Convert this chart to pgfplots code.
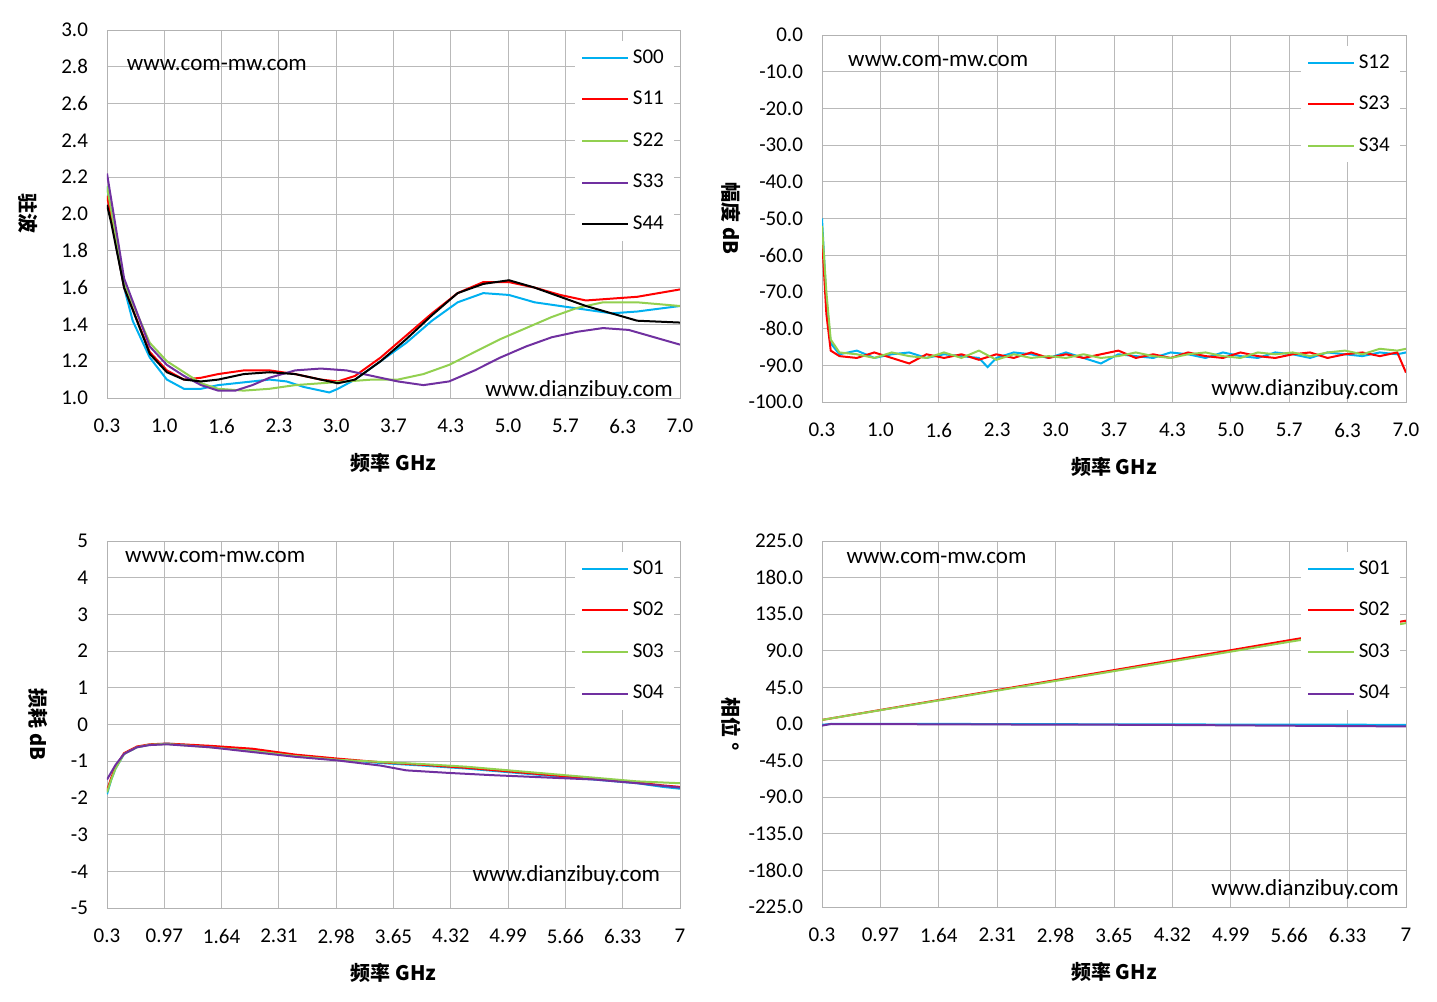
\documentclass[border=0pt]{standalone}
\usepackage{pgfplots}
\pgfplotsset{compat=1.18}
\usepackage{fontspec}
\setmainfont{Carlito}
\newfontfamily\cjk{Noto Sans CJK SC}
\definecolor{c0}{RGB}{0,176,240}
\definecolor{c1}{RGB}{255,0,0}
\definecolor{c2}{RGB}{146,208,80}
\definecolor{c3}{RGB}{112,48,160}
\tikzset{ln/.style={line width=1pt}}
\pgfplotsset{
 base/.style={scale only axis, axis line style={gray!60}, grid=major, grid style={gray!55},
  tick style={draw=none}, tick label style={font=\fontsize{10.5}{12}\selectfont},
  xticklabel style={yshift=-7pt}, yticklabel style={xshift=-6pt},
  /pgf/number format/assume math mode=true,
  xlabel style={font=\cjk\bfseries\fontsize{10}{12}\selectfont, yshift=-3pt},
  ylabel style={font=\cjk\bfseries\fontsize{10}{12}\selectfont, rotate=180},
  legend style={draw=none, fill=white, font=\fontsize{10.5}{12}\selectfont, at={(0.99,0.97)}, anchor=north east, row sep=8.5pt},
  legend image code/.code={\draw[#1] (0cm,0cm) -- (0.8cm,0cm);},
  legend cell align=left,
  xmin=0.3, xmax=7, xtick={0.3,0.97,1.64,2.31,2.98,3.65,4.32,4.99,5.66,6.33,7},
 },
 lft/.style={ylabel style={yshift=-5pt}},
 rgt/.style={ylabel style={yshift=3pt}},
 tlab/.style={xticklabels={0.3,1.0,1.6,2.3,3.0,3.7,4.3,5.0,5.7,6.3,7.0}},
 blab/.style={xticklabels={0.3,0.97,1.64,2.31,2.98,3.65,4.32,4.99,5.66,6.33,7}},
}
\begin{document}
\begin{tikzpicture}
\path (0pt,0pt) rectangle (718.5pt,501pt);
% TL
\begin{axis}[base, lft, tlab, at={(53.5pt,302pt)}, anchor=south west, width=286.5pt, height=184pt,
 ymin=1, ymax=3, ytick={1,1.2,...,3.01}, yticklabel style={/pgf/number format/.cd,fixed,fixed zerofill,precision=1},
 xlabel={频率 GHz}, ylabel={驻波}]
\addplot[ln,c0] coordinates {(0.3,2.15)(0.4,1.85)(0.5,1.6)(0.6,1.42)(0.8,1.22)(1.0,1.1)(1.2,1.05)(1.4,1.05)(1.6,1.07)(1.8,1.08)(2.0,1.09)(2.2,1.1)(2.4,1.09)(2.6,1.06)(2.8,1.04)(2.9,1.03)(3.0,1.05)(3.2,1.1)(3.5,1.2)(3.8,1.3)(4.1,1.42)(4.4,1.52)(4.7,1.57)(5.0,1.56)(5.3,1.52)(5.6,1.5)(5.9,1.48)(6.2,1.46)(6.5,1.47)(7.0,1.5)};
\addplot[ln,c1] coordinates {(0.3,2.1)(0.5,1.6)(0.8,1.25)(1.0,1.15)(1.2,1.1)(1.4,1.11)(1.6,1.13)(1.9,1.15)(2.2,1.15)(2.5,1.13)(2.8,1.1)(3.0,1.09)(3.2,1.12)(3.5,1.22)(3.8,1.34)(4.1,1.46)(4.4,1.57)(4.7,1.63)(5.0,1.63)(5.3,1.6)(5.6,1.56)(5.9,1.53)(6.2,1.54)(6.5,1.55)(7.0,1.59)};
\addplot[ln,c2] coordinates {(0.3,2.15)(0.5,1.62)(0.8,1.3)(1.0,1.2)(1.2,1.14)(1.4,1.08)(1.6,1.05)(1.9,1.04)(2.2,1.05)(2.5,1.07)(2.8,1.08)(3.1,1.09)(3.4,1.1)(3.7,1.1)(4.0,1.13)(4.3,1.18)(4.6,1.25)(4.9,1.32)(5.2,1.38)(5.5,1.44)(5.8,1.49)(6.1,1.52)(6.5,1.52)(7.0,1.5)};
\addplot[ln,c3] coordinates {(0.3,2.22)(0.5,1.65)(0.8,1.28)(1.0,1.18)(1.2,1.12)(1.4,1.07)(1.6,1.04)(1.8,1.04)(2.0,1.07)(2.2,1.11)(2.5,1.15)(2.8,1.16)(3.1,1.15)(3.4,1.12)(3.7,1.09)(4.0,1.07)(4.3,1.09)(4.6,1.15)(4.9,1.22)(5.2,1.28)(5.5,1.33)(5.8,1.36)(6.1,1.38)(6.4,1.37)(6.7,1.33)(7.0,1.29)};
\addplot[ln,black] coordinates {(0.3,2.05)(0.35,1.95)(0.5,1.6)(0.8,1.24)(1.0,1.14)(1.2,1.1)(1.4,1.09)(1.6,1.1)(1.9,1.13)(2.2,1.14)(2.5,1.13)(2.8,1.1)(3.0,1.08)(3.2,1.1)(3.5,1.2)(3.8,1.32)(4.1,1.45)(4.4,1.57)(4.7,1.62)(5.0,1.64)(5.3,1.6)(5.6,1.55)(5.9,1.5)(6.2,1.46)(6.5,1.42)(7.0,1.41)};
\legend{S00,S11,S22,S33,S44}
\node[anchor=west,font=\fontsize{11.5}{13}\selectfont] at (axis cs:0.45,2.81) {www.com-mw.com};
\node[anchor=east,font=\fontsize{11.5}{13}\selectfont] at (axis cs:7,1.04) {www.dianzibuy.com};
\end{axis}
% TR
\begin{axis}[base, rgt, tlab, at={(411pt,300pt)}, anchor=south west, width=292pt, height=183.5pt,
 ymin=-100, ymax=0, ytick={-100,-90,...,0}, yticklabel style={/pgf/number format/.cd,fixed,fixed zerofill,precision=1},
 xlabel={频率 GHz}, ylabel={幅度 dB}]
\addplot[ln,c0] coordinates {(0.3,-50)(0.35,-72)(0.4,-84)(0.5,-87)(0.7,-86)(0.9,-88)(1.1,-87)(1.3,-86.5)(1.5,-88)(1.7,-87)(1.9,-87.5)(2.1,-88)(2.2,-90.5)(2.3,-88)(2.5,-86.5)(2.7,-87)(2.9,-88)(3.1,-86.5)(3.3,-88)(3.5,-89.5)(3.7,-87)(3.9,-87.5)(4.1,-88)(4.3,-86.5)(4.5,-87)(4.7,-88)(4.9,-86.5)(5.1,-87.5)(5.3,-88)(5.5,-86.5)(5.7,-87)(5.9,-88)(6.1,-86.5)(6.3,-87)(6.5,-87.5)(6.7,-86.5)(6.9,-87)(7.0,-86.5)};
\addplot[ln,c1] coordinates {(0.3,-55)(0.35,-76)(0.4,-86)(0.5,-87.5)(0.7,-88)(0.9,-86.5)(1.1,-88)(1.3,-89.5)(1.5,-87)(1.7,-88)(1.9,-87)(2.1,-88.5)(2.3,-87)(2.5,-88)(2.7,-86.5)(2.9,-88)(3.1,-87)(3.3,-88)(3.5,-87)(3.7,-86)(3.9,-88)(4.1,-87)(4.3,-88)(4.5,-86.5)(4.7,-87.5)(4.9,-88)(5.1,-86.5)(5.3,-87.5)(5.5,-88)(5.7,-87)(5.9,-86.5)(6.1,-88)(6.3,-87)(6.5,-86.5)(6.7,-87.5)(6.9,-86.5)(7.0,-92)};
\addplot[ln,c2] coordinates {(0.3,-52)(0.35,-70)(0.4,-83)(0.5,-86.5)(0.7,-87)(0.9,-88)(1.1,-86.5)(1.3,-87.5)(1.5,-88)(1.7,-86.5)(1.9,-88)(2.1,-86)(2.3,-88.5)(2.5,-87)(2.7,-88)(2.9,-87.5)(3.1,-88)(3.3,-87)(3.5,-88)(3.7,-87.5)(3.9,-86.5)(4.1,-87.5)(4.3,-88)(4.5,-87)(4.7,-86.5)(4.9,-87.5)(5.1,-88)(5.3,-86.5)(5.5,-87)(5.7,-86.5)(5.9,-87.5)(6.1,-86.5)(6.3,-86)(6.5,-87)(6.7,-85.5)(6.9,-86)(7.0,-85.5)};
\legend{S12,S23,S34}
\node[anchor=west,font=\fontsize{11.5}{13}\selectfont] at (axis cs:0.52,-7) {www.com-mw.com};
\node[anchor=east,font=\fontsize{11.5}{13}\selectfont] at (axis cs:7,-96.5) {www.dianzibuy.com};
\end{axis}
% BL
\begin{axis}[base, lft, blab, at={(53.5pt,47pt)}, anchor=south west, width=286.5pt, height=183.5pt,
 ymin=-5, ymax=5, ytick={-5,...,5},
 xlabel={频率 GHz}, ylabel={损耗 dB}]
\addplot[ln,c0] coordinates {(0.3,-1.9)(0.35,-1.5)(0.4,-1.2)(0.5,-0.8)(0.65,-0.62)(0.8,-0.55)(1.0,-0.52)(1.5,-0.6)(2.0,-0.7)(2.5,-0.85)(3.0,-0.95)(3.5,-1.05)(4.0,-1.12)(4.5,-1.2)(5.0,-1.3)(5.5,-1.4)(6.0,-1.5)(6.5,-1.6)(6.8,-1.7)(7.0,-1.75)};
\addplot[ln,c1] coordinates {(0.3,-1.8)(0.35,-1.45)(0.4,-1.15)(0.5,-0.78)(0.65,-0.6)(0.8,-0.54)(1.0,-0.52)(1.5,-0.58)(2.0,-0.66)(2.5,-0.82)(3.0,-0.93)(3.5,-1.03)(4.0,-1.1)(4.5,-1.18)(5.0,-1.28)(5.5,-1.38)(6.0,-1.48)(6.5,-1.58)(6.8,-1.66)(7.0,-1.7)};
\addplot[ln,c2] coordinates {(0.3,-1.85)(0.35,-1.5)(0.4,-1.2)(0.5,-0.8)(0.65,-0.62)(0.8,-0.55)(1.0,-0.53)(1.5,-0.62)(2.0,-0.72)(2.5,-0.86)(3.0,-0.96)(3.5,-1.02)(4.0,-1.08)(4.5,-1.15)(5.0,-1.25)(5.5,-1.35)(6.0,-1.45)(6.5,-1.55)(7.0,-1.6)};
\addplot[ln,c3] coordinates {(0.3,-1.5)(0.35,-1.3)(0.4,-1.1)(0.5,-0.8)(0.65,-0.62)(0.8,-0.56)(1.0,-0.54)(1.5,-0.62)(2.0,-0.75)(2.5,-0.88)(3.0,-0.98)(3.5,-1.12)(3.8,-1.25)(4.3,-1.32)(4.8,-1.38)(5.2,-1.42)(5.6,-1.46)(6.0,-1.5)(6.5,-1.6)(7.0,-1.72)};
\legend{S01,S02,S03,S04}
\node[anchor=west,font=\fontsize{11.5}{13}\selectfont] at (axis cs:0.43,4.55) {www.com-mw.com};
\node[anchor=east,font=\fontsize{11.5}{13}\selectfont] at (axis cs:6.85,-4.1) {www.dianzibuy.com};
\end{axis}
% BR
\begin{axis}[base, rgt, blab, at={(411pt,47.5pt)}, anchor=south west, width=292pt, height=183pt,
 ymin=-225, ymax=225, ytick={-225,-180,...,225}, yticklabel style={/pgf/number format/.cd,fixed,fixed zerofill,precision=1},
 xlabel={频率 GHz}, ylabel={相位 °}]
\addplot[ln,c0] coordinates {(0.3,-1)(0.4,0)(2,0)(4,-0.5)(7,-1)};
\addplot[ln,c1] coordinates {(0.3,5)(1.64,29.5)(2.98,54)(4.32,78.5)(5.66,103)(7,127)};
\addplot[ln,c2] coordinates {(0.3,5)(1.64,29)(2.98,53)(4.32,77)(5.66,101)(7,124)};
\addplot[ln,c3] coordinates {(0.3,-2)(0.4,0)(2,-0.5)(4,-1)(7,-3)};
\legend{S01,S02,S03,S04}
\node[anchor=west,font=\fontsize{11.5}{13}\selectfont] at (axis cs:0.5,204) {www.com-mw.com};
\node[anchor=east,font=\fontsize{11.5}{13}\selectfont] at (axis cs:7,-203) {www.dianzibuy.com};
\end{axis}
\end{tikzpicture}
\end{document}
